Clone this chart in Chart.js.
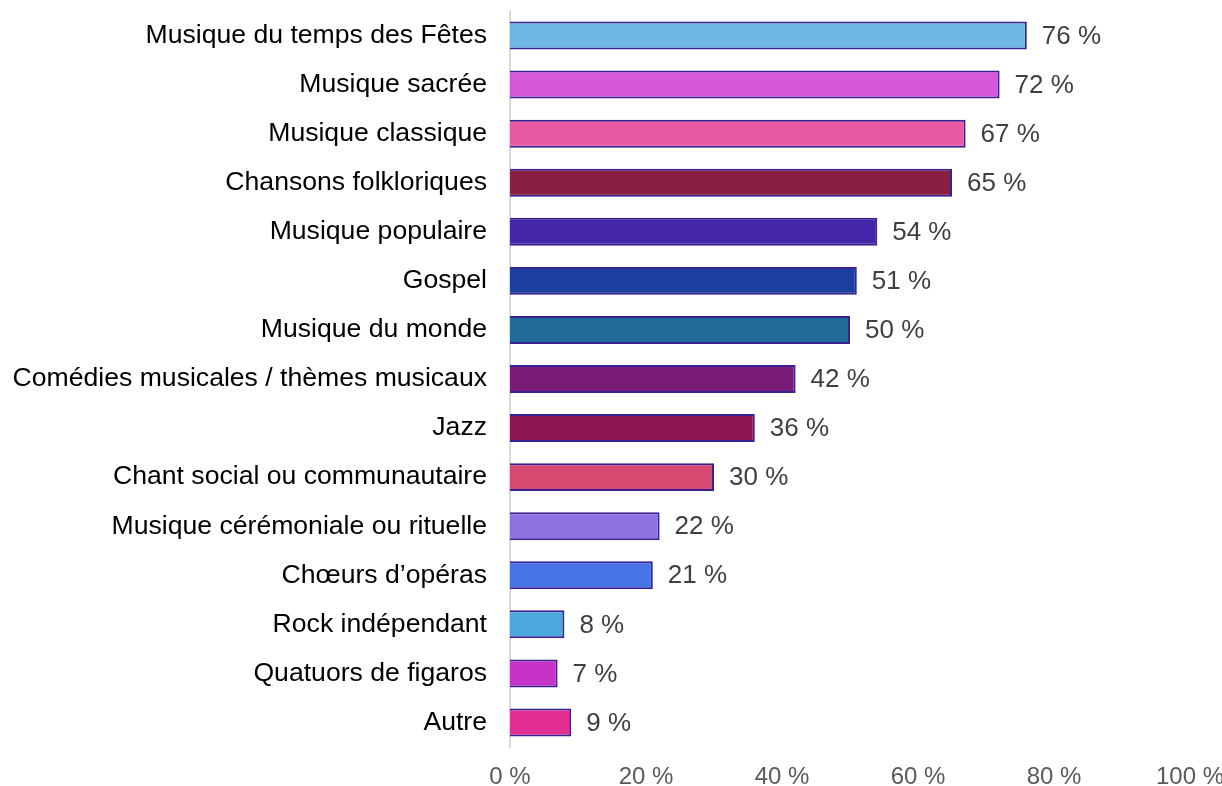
<!DOCTYPE html>
<html>
<head>
<meta charset="utf-8">
<script src="https://cdn.jsdelivr.net/npm/chart.js@4.4.1/dist/chart.umd.min.js"></script>
<style>
  html, body { margin: 0; padding: 0; background: #fff; }
  #wrap { width: 1222px; height: 786px; }
</style>
</head>
<body>
<div id="wrap"><canvas id="chart1"></canvas></div>
<script>
const genres = [
  "Musique du temps des Fêtes",
  "Musique sacrée",
  "Musique classique",
  "Chansons folkloriques",
  "Musique populaire",
  "Gospel",
  "Musique du monde",
  "Comédies musicales / thèmes musicaux",
  "Jazz",
  "Chant social ou communautaire",
  "Musique cérémoniale ou rituelle",
  "Chœurs d’opéras",
  "Rock indépendant",
  "Quatuors de figaros",
  "Autre"
];

const percents = [76, 72, 67, 65, 54, 51, 50, 42, 36, 30, 22, 21, 8, 7, 9];

const barColors = [
  "#6fb7e2", "#d458d7", "#ea5aa2", "#8a2041", "#4426a9",
  "#1a3fa0", "#216b97", "#791d79", "#8e1553", "#d64a71",
  "#8c71e0", "#4673e7", "#4ba7dc", "#c732c9", "#e42f92"
];

const xTicks = [0, 20, 40, 60, 80, 100];

const FONT = "'Liberation Sans', Arial, sans-serif";

// draws "76 %" etc. to the right of each bar
const valueLabels = {
  id: "valueLabels",
  afterDatasetsDraw(chart) {
    const ctx = chart.ctx;
    const meta = chart.getDatasetMeta(0);
    ctx.save();
    ctx.font = "26px " + FONT;
    ctx.fillStyle = "#404040";
    ctx.textAlign = "left";
    ctx.textBaseline = "middle";
    meta.data.forEach((bar, i) => {
      ctx.fillText(percents[i] + " %", bar.x + 15, bar.y + 1);
    });
    ctx.restore();
  }
};

const ctx = document.getElementById("chart1").getContext("2d");

new Chart(ctx, {
  type: "bar",
  data: {
    labels: genres,
    datasets: [{
      data: percents,
      backgroundColor: barColors,
      borderColor: "#3a2090",
      borderWidth: 2,
      borderSkipped: "left",
      barPercentage: 0.57,
      categoryPercentage: 1.0
    }]
  },
  options: {
    indexAxis: "y",
    responsive: true,
    maintainAspectRatio: false,
    animation: false,
    layout: { padding: { top: 11, right: 32, bottom: 0, left: 0 } },
    plugins: {
      legend: { display: false },
      tooltip: { enabled: false }
    },
    scales: {
      x: {
        min: 0,
        max: 100,
        afterBuildTicks: (scale) => {
          scale.ticks = xTicks.map(v => ({ value: v }));
        },
        afterFit: (scale) => {
          scale.height = 39;
          scale.paddingLeft = 0;
          scale.paddingRight = 0;
        },
        grid: { display: false, drawTicks: false },
        border: { display: false },
        ticks: {
          padding: 16,
          color: "#595959",
          font: { family: FONT, size: 24 },
          callback: (v) => v + " %"
        }
      },
      y: {
        afterFit: (scale) => {
          scale.width = 510;
          scale.paddingTop = 0;
          scale.paddingBottom = 0;
        },
        grid: { display: false, drawTicks: false },
        border: { display: true, color: "#d9d9d9", width: 2 },
        ticks: {
          padding: 23,
          color: "#000000",
          font: { family: FONT, size: 26.6 }
        }
      }
    }
  },
  plugins: [valueLabels]
});
</script>
</body>
</html>
